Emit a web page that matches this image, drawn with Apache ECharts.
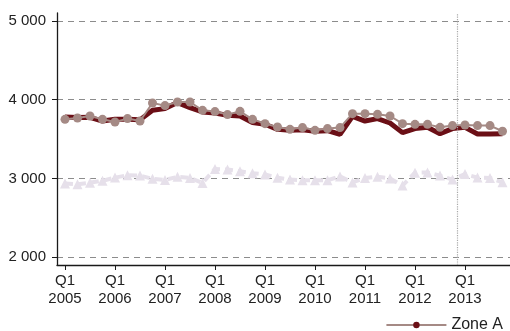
<!DOCTYPE html>
<html>
<head>
<meta charset="utf-8">
<script src="https://cdn.jsdelivr.net/npm/echarts@6/dist/echarts.min.js"></script>
<style>
  html, body { margin: 0; padding: 0; background: #fff; }
  #chart { width: 510px; height: 331px; }
</style>
</head>
<body>
<div id="chart"></div>
<script>
// Quarterly series, 2005 Q1 .. 2013 Q4 (index 0..35)
const years = ['2005', '2006', '2007', '2008', '2009', '2010', '2011', '2012', '2013'];
const quarters = [];
years.forEach(y => { for (let q = 1; q <= 4; q++) quarters.push('Q' + q + ' ' + y); });

// Zone A (main series)
const zoneA = [3780, 3772, 3775, 3728, 3750, 3750, 3743, 3864, 3886, 3962, 3899, 3843,
               3830, 3800, 3792, 3708, 3687, 3623, 3610, 3618, 3598, 3606, 3560, 3788,
               3728, 3759, 3703, 3581, 3632, 3648, 3568, 3632, 3648, 3564, 3564, 3568];
// Companion series drawn with round markers
const zoneARaw = [3750, 3767, 3792, 3750, 3716, 3759, 3728, 3957, 3924, 3970, 3970, 3864,
                  3848, 3810, 3851, 3750, 3695, 3652, 3623, 3645, 3610, 3632, 3645, 3822,
                  3822, 3813, 3792, 3695, 3686, 3686, 3648, 3670, 3678, 3670, 3670, 3598];
// Lower reference series drawn with triangles
const reference = [2935, 2925, 2945, 2970, 3010, 3040, 3035, 2995, 2980, 3020, 3005, 2942,
                   3120, 3112, 3090, 3065, 3050, 3008, 2985, 2975, 2975, 2975, 3025, 2948,
                   3005, 3022, 3000, 2908, 3072, 3075, 3035, 2985, 3055, 3010, 3005, 2950];

const yTicks = [2000, 3000, 4000, 5000];
const xTickIdx = years.map((y, i) => i * 4);   // Q1 of each year
const markerPos = 31.4;                          // vertical dotted marker

const pairs = arr => arr.map((v, i) => [i, v]);
const FONT = "'Liberation Sans Narrow', 'Liberation Sans', Arial, sans-serif";

const chart = echarts.init(document.getElementById('chart'), null, { renderer: 'canvas' });
chart.setOption({
  animation: false,
  backgroundColor: '#ffffff',
  textStyle: { fontFamily: FONT },
  grid: { left: 57, right: 0, top: 13, bottom: 66, outerBoundsMode: 'none', containLabel: false },
  xAxis: {
    type: 'value',
    min: -0.64,
    max: 35.6,
    axisLine: { show: true, onZero: false, lineStyle: { color: '#1a1a1a', width: 1.3 } },
    axisTick: { show: true, length: 5, customValues: xTickIdx, lineStyle: { color: '#1a1a1a' } },
    axisLabel: {
      customValues: xTickIdx,
      formatter: v => 'Q1\n' + years[Math.round(v / 4)],
      color: '#222', fontSize: 15, lineHeight: 18, margin: 7, fontFamily: FONT
    },
    splitLine: { show: false }
  },
  yAxis: {
    type: 'value',
    min: 1900,
    max: 5100,
    axisLine: { show: true, onZero: false, lineStyle: { color: '#1a1a1a', width: 1.3 } },
    axisTick: { show: true, length: 5, customValues: yTicks, lineStyle: { color: '#1a1a1a' } },
    axisLabel: {
      customValues: yTicks,
      formatter: v => String(v).replace(/\B(?=(\d{3})+(?!\d))/g, ' '),
      color: '#222', fontSize: 15, margin: 11, fontFamily: FONT
    },
    splitLine: { show: true, lineStyle: { color: '#8c8c8c', type: [6, 5], width: 1 } }
  },
  legend: {
    right: 2, top: 312,
    itemWidth: 60, itemHeight: 8, itemGap: 4,
    textStyle: { fontSize: 16, color: '#222', fontFamily: FONT },
    data: [{
      name: 'Zone A',
      itemStyle: { color: '#6b0f16' },
      lineStyle: { color: '#a58a85', width: 2 }
    }]
  },
  series: [
    {
      name: 'Reference', type: 'line', data: pairs(reference),
      symbol: 'triangle', symbolSize: 10,
      itemStyle: { color: '#e6e0ea' },
      lineStyle: { color: '#e6e0ea', width: 4, type: [8, 5] },
      z: 1
    },
    {
      name: 'Zone A', type: 'line', data: pairs(zoneA),
      symbol: 'circle', symbolSize: 8, showSymbol: false,
      itemStyle: { color: '#6b0f16' },
      lineStyle: { color: '#6b0f16', width: 5 },
      z: 2,
      markLine: {
        silent: true, symbol: 'none', label: { show: false },
        lineStyle: { color: '#a8a8a8', type: 'dotted', width: 1.2 },
        data: [{ xAxis: markerPos }]
      }
    },
    {
      name: 'Zone A raw', type: 'line', data: pairs(zoneARaw),
      symbol: 'circle', symbolSize: 9,
      itemStyle: { color: '#a58a85' },
      lineStyle: { color: '#a58a85', width: 2 },
      z: 3
    }
  ]
});
</script>
</body>
</html>
